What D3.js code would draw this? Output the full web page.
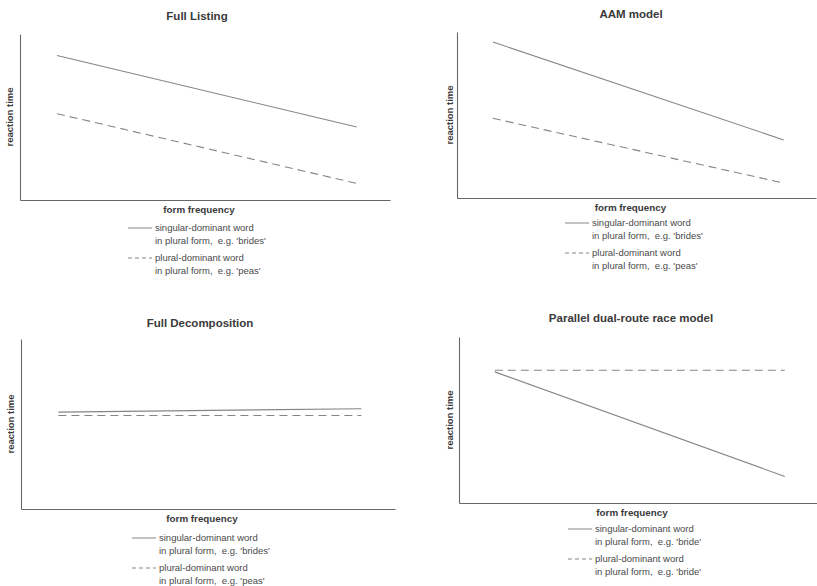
<!DOCTYPE html>
<html>
<head>
<meta charset="utf-8">
<script src="https://cdn.jsdelivr.net/npm/d3@7"></script>
<style>
  html, body { margin: 0; padding: 0; background: #ffffff; }
  svg { display: block; }
  text { white-space: pre; }
</style>
</head>
<body>
<svg id="chart" width="817" height="586"></svg>
<script>
// ---- data ----
const panelTitles = ["Full Listing", "AAM model", "Full Decomposition", "Parallel dual-route race model"];
const formFrequency = [10, 91];                 // low -> high form frequency (relative units)
const singularDominantRT = [[87, 44], [94, 35], [57, 59], [79, 16]];
const pluralDominantRT  = [[52, 10], [48, 9],  [55, 55], [80, 80]];
const xAxisLabel = "form frequency";
const yAxisLabel = "reaction time";
const legendSingular = [
  ["singular-dominant word", "in plural form,  e.g. 'brides'"],
  ["singular-dominant word", "in plural form,  e.g. 'brides'"],
  ["singular-dominant word", "in plural form,  e.g. 'brides'"],
  ["singular-dominant word", "in plural form,  e.g. 'bride'"]
];
const legendPlural = [
  ["plural-dominant word", "in plural form,  e.g. 'peas'"],
  ["plural-dominant word", "in plural form,  e.g. 'peas'"],
  ["plural-dominant word", "in plural form,  e.g. 'peas'"],
  ["plural-dominant word", "in plural form,  e.g. 'bride'"]
];

// ---- layout (per panel frames) ----
const frames = [
  { left: 20,  top: 34,  width: 370, height: 166, titleX: 197, titleY: 20,  yLabX: 13,  legX: 128, legY: 228 },
  { left: 457, top: 32,  width: 359, height: 166, titleX: 631, titleY: 18,  yLabX: 453, legX: 565, legY: 223 },
  { left: 21,  top: 339, width: 374, height: 170, titleX: 200, titleY: 327, yLabX: 14,  legX: 132, legY: 538 },
  { left: 459, top: 337, width: 358, height: 166, titleX: 631, titleY: 322, yLabX: 453, legX: 568, legY: 529 }
];

const svg = d3.select("#chart");
const font = "'Liberation Sans', Arial, sans-serif";
const lineColor = "#858585";
const textColor = "#3a3a3a";

panelTitles.forEach((title, i) => {
  const f = frames[i];
  const x = d3.scaleLinear().domain([0, 100]).range([f.left, f.left + f.width]);
  const y = d3.scaleLinear().domain([0, 100]).range([f.top + f.height, f.top]);
  const g = svg.append("g");

  // axes (no ticks)
  const xAxis = g.append("g").attr("transform", `translate(0,${f.top + f.height})`)
    .call(d3.axisBottom(x).tickValues([]).tickSizeOuter(0));
  const yAxis = g.append("g").attr("transform", `translate(${f.left},0)`)
    .call(d3.axisLeft(y).tickValues([]).tickSizeOuter(0));
  [xAxis, yAxis].forEach(a => a.select(".domain").attr("stroke", "#666").attr("stroke-width", 1.1));

  // title
  g.append("text").attr("x", f.titleX).attr("y", f.titleY)
    .attr("text-anchor", "middle").attr("font-family", font).attr("font-weight", "bold")
    .attr("font-size", 11.5).attr("fill", textColor).text(title);

  // axis labels
  g.append("text").attr("x", x(50) - 6).attr("y", f.top + f.height + 13)
    .attr("text-anchor", "middle").attr("font-family", font).attr("font-weight", "bold")
    .attr("font-size", 9.8).attr("fill", textColor).text(xAxisLabel);
  g.append("text")
    .attr("transform", `translate(${f.yLabX},${y(50)}) rotate(-90)`)
    .attr("text-anchor", "middle").attr("font-family", font).attr("font-weight", "bold")
    .attr("font-size", 9.5).attr("fill", textColor).text(yAxisLabel);

  const line = d3.line().x(d => x(d[0])).y(d => y(d[1]));
  const sData = formFrequency.map((fx, k) => [fx, singularDominantRT[i][k]]);
  const pData = formFrequency.map((fx, k) => [fx, pluralDominantRT[i][k]]);

  g.append("path").datum(sData).attr("d", line).attr("fill", "none")
    .attr("stroke", lineColor).attr("stroke-width", 1.1);
  g.append("path").datum(pData).attr("d", line).attr("fill", "none")
    .attr("stroke", lineColor).attr("stroke-width", 1.1).attr("stroke-dasharray", "8,5");

  // legend
  const legends = [
    { lines: legendSingular[i], dash: null, dy: 0 },
    { lines: legendPlural[i], dash: "4,3", dy: 30 }
  ];
  legends.forEach(L => {
    const ly = f.legY + L.dy;
    g.append("line").attr("x1", f.legX).attr("x2", f.legX + 24)
      .attr("y1", ly).attr("y2", ly)
      .attr("stroke", lineColor).attr("stroke-width", 1)
      .attr("stroke-dasharray", L.dash);
    L.lines.forEach((t, k) => {
      g.append("text").attr("x", f.legX + 27).attr("y", ly + 3 + k * 13)
        .attr("font-family", font).attr("font-size", 9.5).attr("fill", "#4a4a4a").text(t);
    });
  });
});
</script>
</body>
</html>
